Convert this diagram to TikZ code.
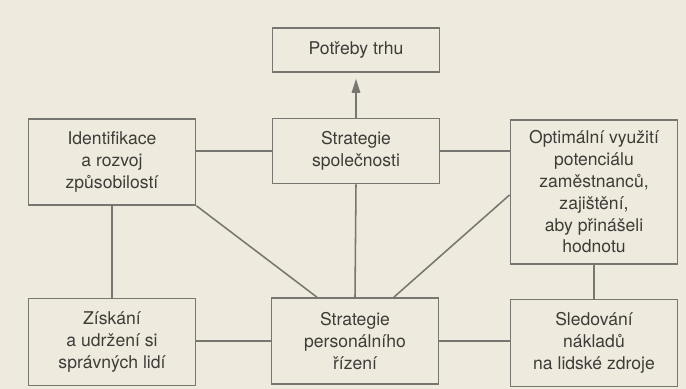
\documentclass[tikz,border=0pt]{standalone}
\usepackage{fontspec}
\setmainfont{TeX Gyre Heros}
\usetikzlibrary{arrows.meta,calc}
\definecolor{paper}{RGB}{238,234,222}
\definecolor{frameC}{RGB}{120,118,112}
\definecolor{inkC}{RGB}{62,60,56}

\begin{document}
\begin{tikzpicture}[x=0.025cm, y=-0.025cm,
  box/.style={draw=frameC, line width=1.1pt, fill=paper, text=inkC, align=center,
    minimum width=4.18cm, inner sep=2pt, font=\fontsize{12.5}{15.5}\selectfont},
  link/.style={draw=frameC, line width=1.1pt}]
% paper
\fill[paper] (0,0) rectangle (686,389);
\useasboundingbox (0,0) rectangle (686,389);

% top row
\node[box, minimum height=1.1cm]   (trh)   at (356,50)  {Potřeby trhu};
\node[box, minimum height=2.15cm]  (ident) at (112,162) {Identifikace\\a rozvoj\\způsobilostí};
\node[box, minimum height=1.625cm] (spol)  at (356,151) {Strategie\\společnosti};
\node[box, minimum height=3.6cm]   (optim) at (594,192) {Optimální využití\\potenciálu\\zaměstnanců,\\zajištění,\\aby přinášeli\\hodnotu};

% bottom row
\node[box, minimum height=2.18cm] (zisk) at (112,342) {Získání\\a udržení si\\správných lidí};
\node[box, minimum height=2.15cm] (pers) at (355,341) {Strategie\\personálního\\řízení};
\node[box, minimum height=2.18cm] (sled) at (594,343) {Sledování\\nákladů\\na lidské zdroje};

% connectors
\draw[link, -{Triangle[length=10pt,width=6pt]}, shorten >=0.15cm] (spol.north) -- (trh.south);
\draw[link] (spol.west) -- (spol.west -| ident.east);
\draw[link] (spol.east) -- (spol.east -| optim.west);
\draw[link] (ident.south) -- (zisk.north);
\draw[link] (spol.south) -- (pers.north);
\draw[link] (optim.south) -- (sled.north);
\draw[link] (ident.south east) -- ($(pers.north west)!0.275!(pers.north east)$);
\draw[link] ($(optim.north west)!0.52!(optim.south west)$) -- ($(pers.north west)!0.73!(pers.north east)$);
\draw[link] (pers.west) -- (pers.west -| zisk.east);
\draw[link] (pers.east) -- (pers.east -| sled.west);
\end{tikzpicture}
\end{document}
